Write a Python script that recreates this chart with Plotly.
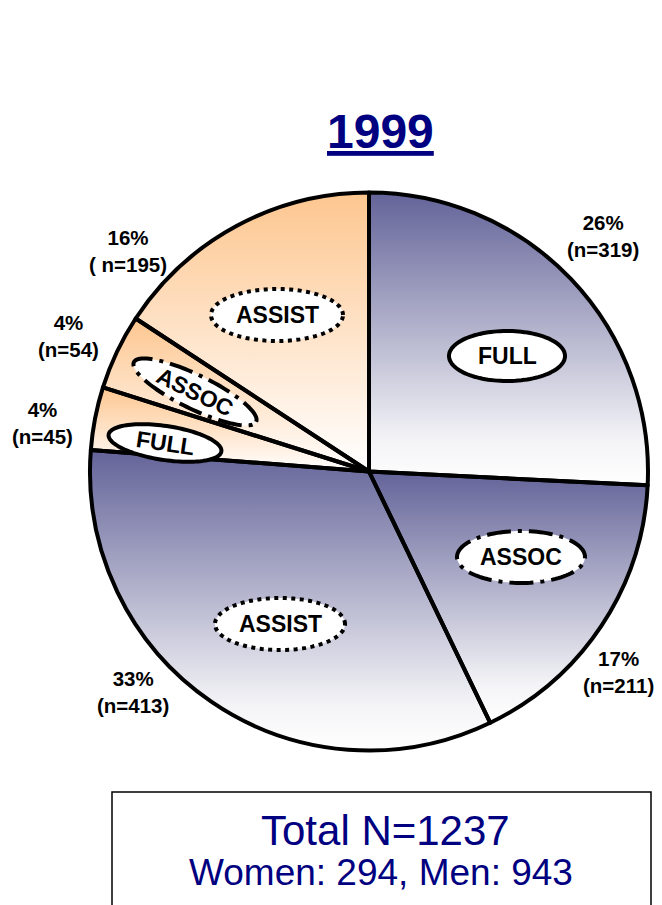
import numpy as np
import plotly.graph_objects as go

# ---------------- data ----------------
year_label = "1999"
categories = ["Full (men)", "Assoc (men)", "Assist (men)",
              "Full (women)", "Assoc (women)", "Assist (women)"]
rank_labels = ["FULL", "ASSOC", "ASSIST", "FULL", "ASSOC", "ASSIST"]
sex = ["men", "men", "men", "women", "women", "women"]
counts = [319, 211, 413, 45, 54, 195]
n_prefix = ["(n=", "(n=", "(n=", "(n=", "(n=", "( n="]

total = sum(counts)
women_total = sum(c for c, s in zip(counts, sex) if s == "women")
men_total = sum(c for c, s in zip(counts, sex) if s == "men")

# ---------------- geometry / style ----------------
W, H = 662, 905
OFF = 8                               # page body margin
SCX, SCY, R = 369, 471.5, 279         # pie centre on screen and radius
CX, CY = SCX - OFF, SCY - OFF         # pie centre inside the figure
FONT = "Arial, Liberation Sans, sans-serif"
NAVY = "#000080"


def px(x, y):
    """screen pixel position -> data coordinates (1 unit = 1 px, y up)."""
    return x - SCX, SCY - y


fig = go.Figure()

# gradient fills for each slice (drawn under a transparent pie)
colorscales = {
    "men": [[0, "#ffffff"], [0.15, "#f4f4f7"], [1, "#636399"]],
    "women": [[0, "#ffffff"], [0.15, "#fff7f0"], [1, "#fdc68f"]],
}
cum = np.cumsum([0] + counts) / total * 2 * np.pi
for i in range(len(counts)):
    th = np.linspace(cum[i], cum[i + 1], 240)
    xs = np.concatenate([[0], R * np.sin(th), [0]])
    ys = np.concatenate([[0], R * np.cos(th), [0]])
    fig.add_trace(go.Scatter(
        x=xs, y=ys, mode="lines", fill="toself",
        line=dict(width=0, color="rgba(0,0,0,0)"),
        fillgradient=dict(type="vertical", colorscale=colorscales[sex[i]]),
        hoverinfo="skip", showlegend=False))

# the pie itself (borders)
fig.add_trace(go.Pie(
    labels=categories, values=counts, sort=False,
    direction="clockwise", rotation=0, textinfo="none",
    marker=dict(colors=["rgba(0,0,0,0)"] * len(counts),
                line=dict(color="black", width=4)),
    domain=dict(x=[(CX - R) / W, (CX + R) / W],
                y=[1 - (CY + R) / H, 1 - (CY - R) / H]),
    showlegend=False, hoverinfo="label+value+percent"))

# ---------------- rank ellipses ----------------
# screen centre x, y, semi-axes a, b, screen rotation (deg, clockwise)
ellipses = [
    (507, 356, 58, 25, 0),
    (521, 557, 64, 26, 0),
    (280, 624, 65, 26, 0),
    (165, 443, 57, 17, 8.5),
    (195, 392, 68, 17, 26),
    (277, 315, 66, 26, 0),
]
dashes = {"FULL": "solid", "ASSOC": "24px,7px,4px,7px", "ASSIST": "4px,4.5px"}

shapes = []
annotations = []
t = np.linspace(0, 2 * np.pi, 120)
for (ex, ey, a, b, rot), lab in zip(ellipses, rank_labels):
    cx, cy = px(ex, ey)
    phi = np.radians(rot)
    xs = cx + a * np.cos(t) * np.cos(phi) + b * np.sin(t) * np.sin(phi)
    ys = cy - a * np.cos(t) * np.sin(phi) + b * np.sin(t) * np.cos(phi)
    path = "M " + " L ".join(f"{x:.2f},{y:.2f}" for x, y in zip(xs, ys)) + " Z"
    shapes.append(dict(type="path", path=path, xref="x", yref="y",
                       fillcolor="white", layer="above",
                       line=dict(color="black", width=4, dash=dashes[lab])))
    annotations.append(dict(x=cx, y=cy, xref="x", yref="y", text=lab,
                            showarrow=False, textangle=rot,
                            font=dict(family=FONT, size=23, color="black",
                                      weight="bold")))

# ---------------- percentage labels ----------------
pct_pos = [(603, 236), (618, 672), (133, 692), (42, 423), (68, 336), (128, 251)]
for (lx, ly), c, pre in zip(pct_pos, counts, n_prefix):
    x, y = px(lx, ly)
    annotations.append(dict(
        x=x, y=y, xref="x", yref="y", showarrow=False,
        text=f"{round(100 * c / total)}%<br>{pre}{c})",
        font=dict(family=FONT, size=20.5, color="black", weight="bold")))

# ---------------- title ----------------
tx, ty = px(380, 131)
annotations.append(dict(x=tx, y=ty, xref="x", yref="y", showarrow=False,
                        text=year_label,
                        font=dict(family=FONT, size=48, color=NAVY,
                                  weight="bold", lineposition="under")))

# ---------------- totals box ----------------
bx0, by0 = px(112, 792)
bx1, by1 = px(651, 912)
shapes.append(dict(type="rect", xref="x", yref="y", x0=bx0, y0=by0,
                   x1=bx1, y1=by1, line=dict(color="black", width=1.5),
                   fillcolor="rgba(0,0,0,0)", layer="above"))
x1t, y1t = px(385, 830)
annotations.append(dict(x=x1t, y=y1t, xref="x", yref="y", showarrow=False,
                        text=f"Total N={total}",
                        font=dict(family=FONT, size=42, color=NAVY)))
x2t, y2t = px(381, 872)
annotations.append(dict(x=x2t, y=y2t, xref="x", yref="y", showarrow=False,
                        text=f"Women: {women_total}, Men: {men_total}",
                        font=dict(family=FONT, size=37, color=NAVY)))

fig.update_layout(
    width=W, height=H, autosize=False,
    margin=dict(l=0, r=0, t=0, b=0, pad=0),
    paper_bgcolor="white", plot_bgcolor="white",
    showlegend=False,
    xaxis=dict(range=[-CX, W - CX], visible=False, fixedrange=True),
    yaxis=dict(range=[CY - H, CY], visible=False, fixedrange=True),
    shapes=shapes, annotations=annotations,
)

fig.write_html("out.html")
